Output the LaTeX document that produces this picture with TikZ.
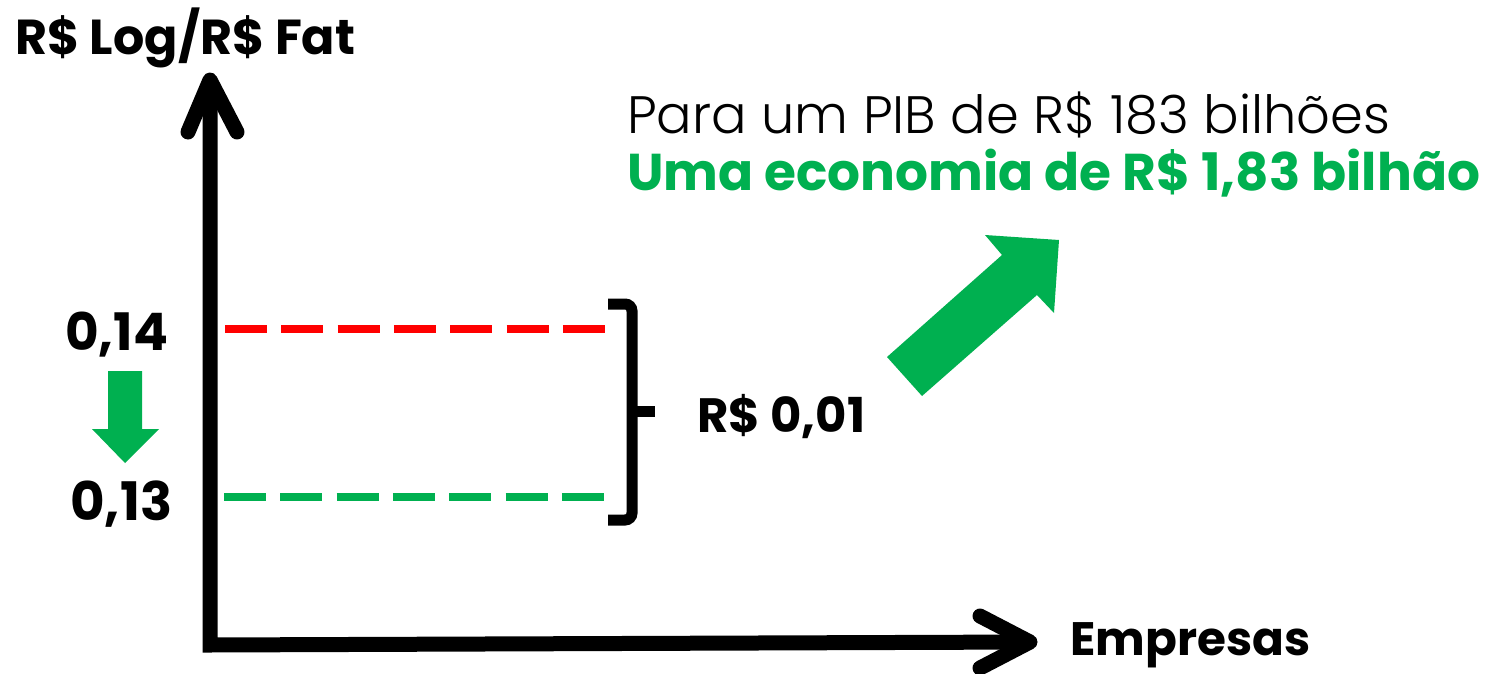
\documentclass[tikz,border=0pt]{standalone}
\usepackage{fontspec}
\setmainfont{Poppins}
\newfontfamily\lightfont{Poppins Light}
\definecolor{ogreen}{HTML}{00B050}
\definecolor{ored}{HTML}{FF0000}
\begin{document}
\begin{tikzpicture}[x=1pt,y=-1pt,
  lbl/.style={anchor=base west,inner sep=0pt,font=\fontsize{40}{48}\selectfont},
  axis/.style={line width=15pt,black,line join=miter},
  chev/.style={line width=15pt,black,line cap=round,line join=round},
  dashline/.style={line width=8pt,dash pattern=on 42pt off 14.3pt},
  brace/.style={line width=11pt,black,rounded corners=7pt}]
\useasboundingbox (0,0) rectangle (1488,674);
\fill[white] (0,0) rectangle (1488,674);

% axes
\coordinate (ytip) at (210,80);
\coordinate (orig) at (210,645);
\coordinate (xtip) at (1030,642);
\draw[axis] (ytip) -- (orig) -- (xtip);
\draw[chev] (188,132) -- (ytip) -- (237,132);
\draw[chev] (980,616) -- (xtip) -- (980,668);

% dashed levels
\coordinate (r1) at (225,329);
\coordinate (r2) at (605,329);
\coordinate (g1) at (224,497);
\coordinate (g2) at (605,497);
\draw[dashline,ored] (r1) -- (r2);
\draw[dashline,ogreen] (g1) -- (g2);

% bracket
\draw[brace] (608,304) -- (632,304) -- (632,520) -- (608,520);
\draw[line width=11pt] (632,411) -- (655,411);

% small green down arrow
\fill[ogreen] (108,371) -- (142,371) -- (142,429) -- (159,429) -- (125,463) -- (92,429) -- (108,429) -- cycle;

% big green arrow
\fill[ogreen] (887,357) -- (1002,255) -- (985,235) -- (1059,240) -- (1054,313) -- (1037,295) -- (922,396) -- cycle;

% texts
\node[lbl] (ylab) at (15,55) {\resizebox{340pt}{!}{\bfseries R\$ Log/R\$ Fat}};
\node[lbl] (xlab) at (1070,655) {\resizebox{240pt}{!}{\bfseries Empresas}};
\node[lbl] (v14) at (65,350) {\resizebox{103pt}{!}{\bfseries 0,14}};
\node[lbl] (v13) at (70,520) {\resizebox{102pt}{!}{\bfseries 0,13}};
\node[lbl] (diff) at (697,432) {\resizebox{168pt}{!}{\bfseries R\$ 0,01}};
\node[lbl] (pib) at (627,133) {\resizebox{763pt}{!}{\lightfont Para um PIB de R\$ 183 bilhões}};
\node[lbl,text=ogreen] (econ) at (627,190) {\resizebox{853pt}{!}{\bfseries Uma economia de R\$ 1,83 bilhão}};
\end{tikzpicture}
\end{document}
